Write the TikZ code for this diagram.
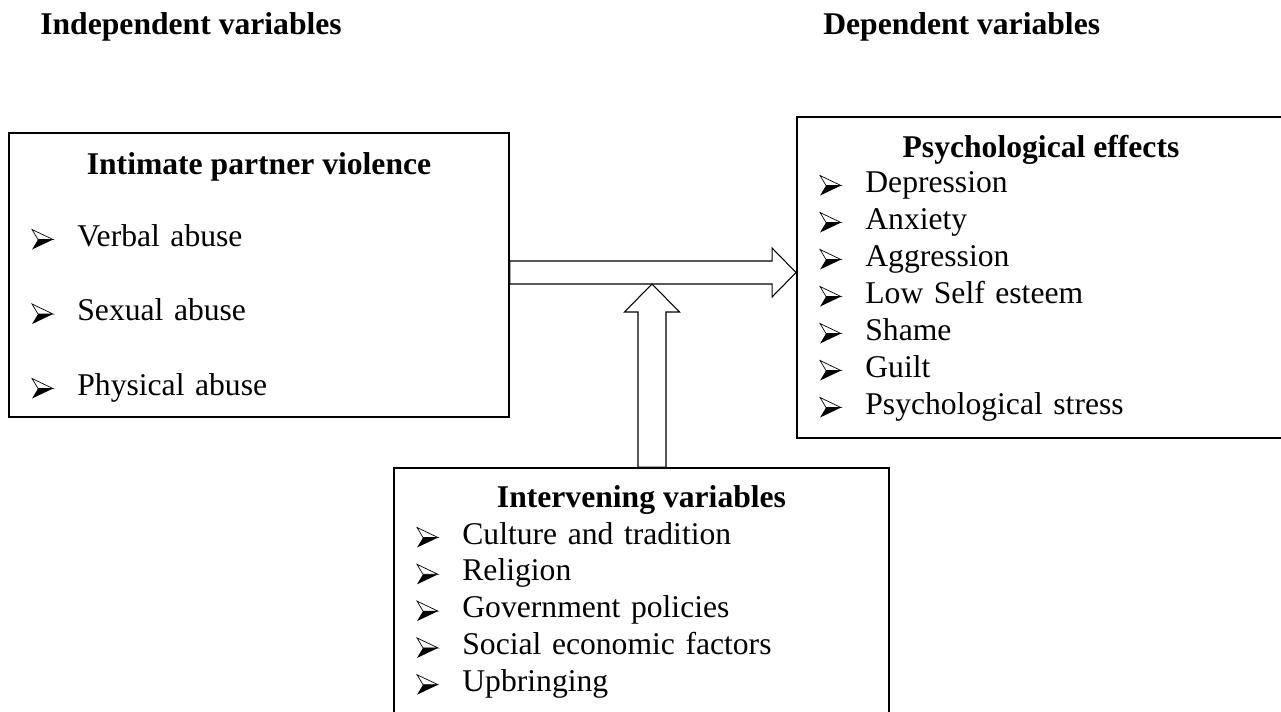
\documentclass[tikz,border=0pt]{standalone}
\usepackage{fontspec}
\setmainfont{Liberation Serif}
\usetikzlibrary{
    positioning,
    calc
}

\begin{document}
\begin{tikzpicture}[
    font=\fontsize{18}{21}\selectfont,
    box/.style={rectangle, draw=black, line width=1.1pt},
    boxtitle/.style={font=\fontsize{18}{21}\selectfont\bfseries, anchor=base},
    heading/.style={font=\fontsize{18}{21}\selectfont\bfseries, anchor=base west, inner sep=0pt},
    item/.style={text width=8cm, align=left, inner sep=0pt,
                 text height=0.5cm, text depth=0.2cm},
    fatarrow/.style={draw=black, line width=0.6pt, fill=white, line join=miter},
    bullet/.pic={
        \fill[black] (0,-0.07) -- (0.42,0.13) -- (0.12,0.13) -- cycle;
        \draw[line width=0.4pt, line join=miter] (0,0.33) -- (0.42,0.13) -- (0.12,0.13) -- cycle;
    }
]
    \clip (0,0) rectangle (25.62,14.22);

    % headings
    \node (indep) [heading] at (0.80,13.52) {Independent variables};
    \node (dep) [heading] at (16.46,13.52) {Dependent variables};

    % boxes
    \node (ipv) [box, minimum width=10cm, minimum height=5.68cm] at (5.18,8.72) {};
    \node (eff) [box, minimum width=9.76cm, minimum height=6.42cm] at (20.82,8.67) {};
    \node (inter) [box, minimum width=9.9cm, minimum height=5.16cm] at (12.83,2.28) {};

    \node (ipvt) [boxtitle] at ([yshift=-0.84cm]ipv.north) {Intimate partner violence};
    \node (efft) [boxtitle] at ([yshift=-0.82cm]eff.north) {Psychological effects};
    \node (intert) [boxtitle] at ([yshift=-0.80cm]inter.north) {Intervening variables};

    % independent list
    \node (verbal) [item, anchor=base west] at ($(ipv.west |- ipvt.base)+(1.38,-1.44)$) {Verbal abuse};
    \node (sexual) [item, node distance=1.49cm, below of=verbal] {Sexual abuse};
    \node (physical) [item, node distance=1.49cm, below of=sexual] {Physical abuse};

    % dependent list
    \node (depr) [item, anchor=base west] at ($(eff.west |- efft.base)+(1.38,-0.70)$) {Depression};
    \node (anx) [item, node distance=0.74cm, below of=depr] {Anxiety};
    \node (aggr) [item, node distance=0.74cm, below of=anx] {Aggression};
    \node (lowse) [item, node distance=0.74cm, below of=aggr] {Low Self esteem};
    \node (shame) [item, node distance=0.74cm, below of=lowse] {Shame};
    \node (guilt) [item, node distance=0.74cm, below of=shame] {Guilt};
    \node (stress) [item, node distance=0.74cm, below of=guilt] {Psychological stress};

    % intervening list
    \node (cult) [item, anchor=base west] at ($(inter.west |- intert.base)+(1.38,-0.74)$) {Culture and tradition};
    \node (relig) [item, node distance=0.736cm, below of=cult] {Religion};
    \node (govt) [item, node distance=0.736cm, below of=relig] {Government policies};
    \node (socio) [item, node distance=0.736cm, below of=govt] {Social economic factors};
    \node (upbr) [item, node distance=0.736cm, below of=socio] {Upbringing};

    \foreach \n in {verbal, sexual, physical, depr, anx, aggr, lowse, shame, guilt, stress,
                    cult, relig, govt, socio, upbr}
        \pic at ([xshift=-0.9cm]\n.base west) {bullet};

    % block arrows
    \coordinate (hs) at ([yshift=0.05cm]ipv.east);
    \coordinate (ht) at (eff.west |- hs);
    \draw [fatarrow] ($(hs)+(0,0.23)$) -- ($(ht)+(-0.48,0.23)$) -- ($(ht)+(-0.48,0.49)$)
        -- (ht) -- ($(ht)+(-0.48,-0.49)$) -- ($(ht)+(-0.48,-0.23)$) -- ($(hs)+(0,-0.23)$) -- cycle;

    \coordinate (vb) at ([xshift=0.21cm]inter.north);
    \coordinate (hb) at ([yshift=-0.23cm]hs);
    \coordinate (vt) at (vb |- hb);
    \draw [fatarrow] ($(vb)+(-0.28,0)$) -- ($(vt)+(-0.28,-0.56)$) -- ($(vt)+(-0.55,-0.56)$)
        -- (vt) -- ($(vt)+(0.55,-0.56)$) -- ($(vt)+(0.28,-0.56)$) -- ($(vb)+(0.28,0)$) -- cycle;

\end{tikzpicture}
\end{document}
